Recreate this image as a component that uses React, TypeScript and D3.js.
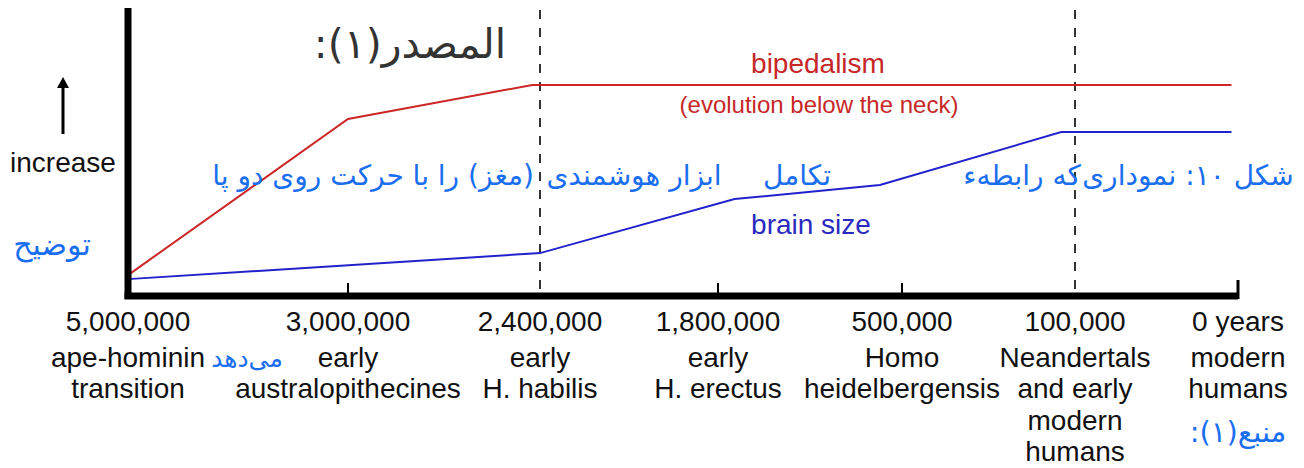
import * as d3 from "d3";

// timeline stages (x axis is by stage, not to scale)
const stageYears = ["5,000,000", "3,000,000", "2,400,000", "1,800,000", "500,000", "100,000", "0 years"];
const stageNames = [
  ["ape-hominin", "transition"],
  ["early", "australopithecines"],
  ["early", "H. habilis"],
  ["early", "H. erectus"],
  ["Homo", "heidelbergensis"],
  ["Neandertals", "and early", "modern", "humans"],
  ["modern", "humans"],
];
const dashedStages = [2, 5];
const tickStages = [1, 3, 4];

// series (relative increase, 0-100)
const bipedalismStage = [0, 1, 1.96, 5.96];
const bipedalismValue = [7.3, 61.9, 73.8, 73.8];
const brainStage = [0, 2, 3.09, 3.88, 4.92, 5.96];
const brainValue = [5.9, 15, 33.9, 38.8, 57.3, 57.3];

const W = 1304;
const H = 468;
const stageX = [128, 348, 540, 718, 902, 1075, 1238];

const latin = "'Liberation Sans', Arial, sans-serif";
const arabic = "'DejaVu Sans', sans-serif";
const fa = "#1a6ef0";

export default function App() {
  const x = d3.scaleLinear().domain(d3.range(stageX.length)).range(stageX);
  const y = d3.scaleLinear().domain([0, 100]).range([296, 10]);

  const line = d3
    .line<[number, number]>()
    .x((d) => x(d[0]))
    .y((d) => y(d[1]));

  const bipedal = bipedalismStage.map((s, i) => [s, bipedalismValue[i]] as [number, number]);
  const brain = brainStage.map((s, i) => [s, brainValue[i]] as [number, number]);

  const axisY = y(0);
  const axisTop = y(100) - 2;

  return (
    <svg width={W} height={H} style={{ position: "absolute", left: 0, top: 0, background: "#fff" }}>
      {/* dashed markers */}
      {dashedStages.map((s) => (
        <line key={s} x1={x(s)} x2={x(s)} y1={axisTop + 2} y2={axisY} stroke="#333" strokeWidth={2} strokeDasharray="9 9" />
      ))}

      {/* series */}
      <path d={line(bipedal) || ""} fill="none" stroke="#cc2626" strokeWidth={2} />
      <path d={line(brain) || ""} fill="none" stroke="#2222cc" strokeWidth={2} />

      {/* axes */}
      <line x1={x(0)} x2={x(0)} y1={axisTop} y2={axisY + 3} stroke="#000" strokeWidth={7} />
      <line x1={x(0) - 3.5} x2={x(6)} y1={axisY} y2={axisY} stroke="#000" strokeWidth={7} />
      {tickStages.map((s) => (
        <line key={s} x1={x(s)} x2={x(s)} y1={axisY - 13} y2={axisY} stroke="#000" strokeWidth={2} />
      ))}
      <line x1={x(6)} x2={x(6)} y1={axisY - 16} y2={axisY + 3} stroke="#000" strokeWidth={3} />

      {/* y label */}
      <line x1={63} x2={63} y1={134} y2={84} stroke="#000" strokeWidth={3} />
      <path d="M57,88 L63,77 L69,88 Z" fill="#000" />
      <text x={63} y={172} textAnchor="middle" fontFamily={latin} fontSize={28} fill="#111">increase</text>

      {/* series labels */}
      <text x={818} y={73} textAnchor="middle" fontFamily={latin} fontSize={28} fill="#c62828">bipedalism</text>
      <text x={819} y={113} textAnchor="middle" fontFamily={latin} fontSize={24} fill="#c62828">(evolution below the neck)</text>
      <text x={811} y={234} textAnchor="middle" fontFamily={latin} fontSize={28} fill="#2a2ac0">brain size</text>

      {/* x labels */}
      {stageYears.map((t, i) => (
        <text key={t} x={x(i)} y={331} textAnchor="middle" fontFamily={latin} fontSize={28} fill="#111">{t}</text>
      ))}
      {stageNames.map((rows, i) =>
        rows.map((r, j) => (
          <text key={i + "-" + j} x={x(i)} y={367 + j * 31.3} textAnchor="middle" fontFamily={latin} fontSize={28} fill="#111">{r}</text>
        ))
      )}

      {/* overlaid Persian / Arabic caption text */}
      <g fontFamily={arabic} direction="rtl" textAnchor="middle">
        <text x={410} y={58} fontSize={41} fill="#333">المصدر(١):</text>
        <text x={1188} y={185} fontSize={28} fill={fa}>شکل ۱۰: نموداری</text>
        <text x={1022} y={185} fontSize={28} fill={fa}>که رابطهء</text>
        <text x={797} y={185} fontSize={28} fill={fa}>تکامل</text>
        <text x={634} y={185} fontSize={28} fill={fa}>ابزار هوشمندی</text>
        <text x={373} y={185} fontSize={28} fill={fa}>(مغز) را با حرکت روی دو پا</text>
        <text x={52} y={255} fontSize={30} fill={fa}>توضیح</text>
        <text x={247} y={367} fontSize={25} fill={fa}>می‌دهد</text>
        <text x={1238} y={442} fontSize={29} fill={fa}>منبع(۱):</text>
      </g>
    </svg>
  );
}
